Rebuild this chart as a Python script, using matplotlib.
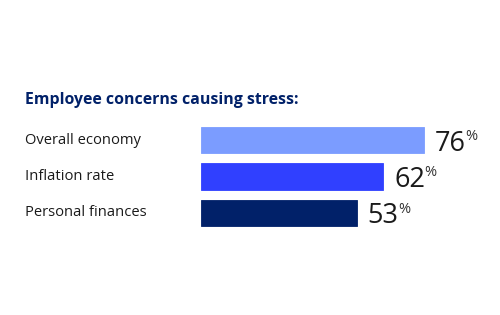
import matplotlib
matplotlib.use("Agg")
import matplotlib.pyplot as plt
from matplotlib.transforms import blended_transform_factory

categories = ["Overall economy", "Inflation rate", "Personal finances"]
values = [76, 62, 53]
colors = ["#7B9CFF", "#3040FF", "#012169"]
title = "Employee concerns causing stress:"

W, H = 500, 315
fig = plt.figure(figsize=(W / 100, H / 100), dpi=100)
fig.patch.set_facecolor("white")

px_per_pct = 2.934
left_px = 201
top_px, bot_px = 121.8, 231.2
ax = fig.add_axes([left_px / W, 1 - bot_px / H, 100 * px_per_pct / W, (bot_px - top_px) / H])
ax.set_xlim(0, 100)
ax.set_ylim(2.5, -0.5)
ax.axis("off")

font = "Open Sans"
ypos = list(range(len(categories)))
ax.barh(ypos, values, height=0.73, color=colors, edgecolor=colors, linewidth=0.6)

trans = blended_transform_factory(fig.transFigure, ax.transData)
for y, cat, v in zip(ypos, categories, values):
    ax.text(25 / W, y, cat, transform=trans, ha="left", va="center",
            fontsize=10.6, color="#1a1a1a", family=font)
    t = ax.annotate(str(v), xy=(v, y), xytext=(8, 0), textcoords="offset points",
                    ha="left", va="center_baseline", fontsize=19.5, color="#1a1a1a",
                    family=font)
    ax.annotate("%", xy=(1, 1), xycoords=t, xytext=(-0.5, 0.5), textcoords="offset points",
                ha="left", va="top", fontsize=10.5, color="#333333", family=font)

fig.text(25 / W, 1 - 100 / H, title, ha="left", va="center", fontsize=11.4,
         fontweight="bold", color="#012169", family=font)

fig.savefig("out.png", dpi=100, facecolor="white")
